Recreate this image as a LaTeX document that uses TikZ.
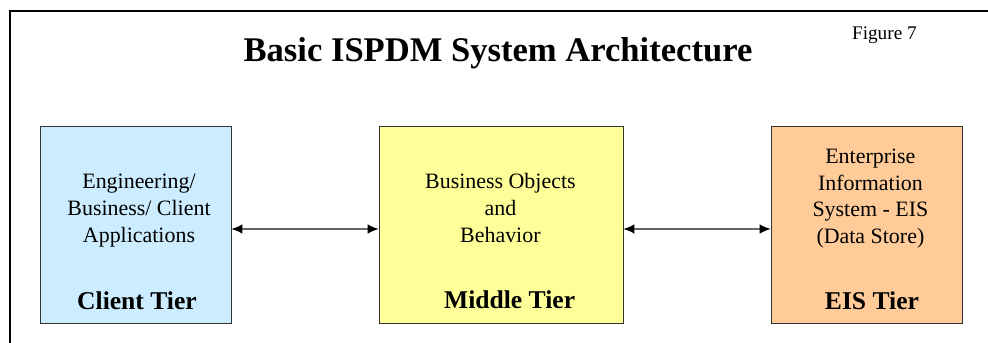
\documentclass[tikz,border=0pt]{standalone}
\usepackage{fontspec}
\setmainfont{Liberation Serif}
\usepackage{tikz}
\usetikzlibrary{arrows.meta}
\definecolor{clientblue}{HTML}{CCECFF}
\definecolor{middleyellow}{HTML}{FFFF99}
\definecolor{eisorange}{HTML}{FFCC99}

\begin{document}
\begin{tikzpicture}[font=\rmfamily,
    tbox/.style={draw=black!80,line width=0.6pt,minimum height=4.925cm,inner sep=0pt},
    ttext/.style={align=center,inner sep=0pt,font=\rmfamily\fontsize{15.6}{19}\selectfont},
    tlabel/.style={anchor=base,inner sep=0pt,font=\rmfamily\bfseries\fontsize{18.2}{22}\selectfont},
    link/.style={draw=black!60,line width=0.9pt,{Latex[length=7.8pt,width=6.8pt,color=black]}-{Latex[length=7.8pt,width=6.8pt,color=black]}}]
    \useasboundingbox (0,0) rectangle (24.7,8.575);
    \draw[line width=1.4pt] (0.25,-0.2) -- (0.25,8.3) -- (24.9,8.3);

    \node[anchor=base,inner sep=0pt,font=\rmfamily\bfseries\fontsize{24.6}{30}\selectfont] (title) at (12.45,7.025) {Basic ISPDM System Architecture};
    \node[anchor=base,inner sep=0pt,font=\rmfamily\fontsize{13.7}{16}\selectfont] (fig) at (22.11,7.575) {Figure 7};

    \node[tbox,fill=clientblue,minimum width=4.775cm] (client) at (3.3875,2.9625) {};
    \node[tbox,fill=middleyellow,minimum width=6.1cm] (middle) at (12.525,2.9625) {};
    \node[tbox,fill=eisorange,minimum width=4.775cm] (eis) at (21.6625,2.9625) {};

    \node[ttext] (clienttext) at (3.475,3.31) {Engineering/\\Business/ Client\\Applications};
    \node[ttext] (middletext) at (12.51,3.375) {Business Objects\\and\\Behavior};
    \node[ttext] (eistext) at (21.76,3.6125) {Enterprise\\Information\\System - EIS\\(Data Store)};

    \node[tlabel] (clientlabel) at (3.425,0.825) {Client Tier};
    \node[tlabel] (middlelabel) at (12.74,0.85) {Middle Tier};
    \node[tlabel] (eislabel) at (21.8,0.825) {EIS Tier};

    \draw[link] ([yshift=-0.1125cm]client.east) -- ([yshift=-0.1125cm]middle.west);
    \draw[link] ([yshift=-0.1125cm]middle.east) -- ([yshift=-0.1125cm]eis.west);
\end{tikzpicture}
\end{document}
